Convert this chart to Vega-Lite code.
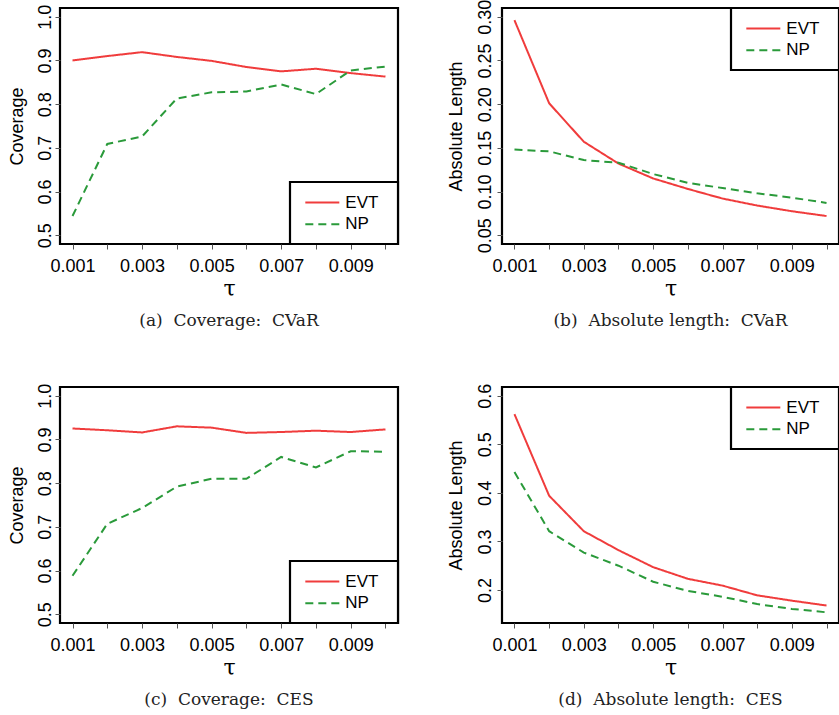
{
  "$schema": "https://vega.github.io/schema/vega-lite/v6.json",
  "autosize": {"type": "none"},
  "padding": {"left": 60, "top": 8, "right": 779, "bottom": 707},
  "background": "white",
  "config": {
    "view": {"stroke": "black", "strokeWidth": 2.2},
    "axis": {"domain": false, "grid": false, "labelFont": "Liberation Sans", "labelFontSize": 18, "labelColor": "black", "titleFont": "Liberation Sans", "titleFontSize": 18, "titleFontWeight": "normal", "titleColor": "black", "tickColor": "#555", "tickSize": 5, "tickWidth": 1},
    "legend": {"strokeWidth": 2.2, "strokeColor": "black", "fillColor": "white", "padding": 11, "rowPadding": 3.7, "symbolType": "M-0.61,0H3.39", "symbolSize": 289, "symbolStrokeWidth": 2, "labelOffset": 25.3, "labelFont": "Liberation Sans", "labelFontSize": 17, "labelColor": "black", "titleOrient": "right", "titleOpacity": 0, "titleFontSize": 1, "titlePadding": 7.5, "offset": 0},
    "title": {"font": "DejaVu Serif", "fontSize": 17, "fontWeight": "normal", "color": "#222", "orient": "bottom", "anchor": "middle", "frame": "group", "offset": 14}
  },
  "datasets": {
    "a": [
      {"tau": 0.001, "value": 0.900, "method": "EVT"}, {"tau": 0.002, "value": 0.910, "method": "EVT"}, {"tau": 0.003, "value": 0.919, "method": "EVT"}, {"tau": 0.004, "value": 0.908, "method": "EVT"}, {"tau": 0.005, "value": 0.899, "method": "EVT"}, {"tau": 0.006, "value": 0.885, "method": "EVT"}, {"tau": 0.007, "value": 0.875, "method": "EVT"}, {"tau": 0.008, "value": 0.881, "method": "EVT"}, {"tau": 0.009, "value": 0.871, "method": "EVT"}, {"tau": 0.010, "value": 0.863, "method": "EVT"},
      {"tau": 0.001, "value": 0.544, "method": "NP"}, {"tau": 0.002, "value": 0.709, "method": "NP"}, {"tau": 0.003, "value": 0.726, "method": "NP"}, {"tau": 0.004, "value": 0.813, "method": "NP"}, {"tau": 0.005, "value": 0.827, "method": "NP"}, {"tau": 0.006, "value": 0.829, "method": "NP"}, {"tau": 0.007, "value": 0.845, "method": "NP"}, {"tau": 0.008, "value": 0.823, "method": "NP"}, {"tau": 0.009, "value": 0.877, "method": "NP"}, {"tau": 0.010, "value": 0.886, "method": "NP"}
    ],
    "b": [
      {"tau": 0.001, "value": 0.296, "method": "EVT"}, {"tau": 0.002, "value": 0.201, "method": "EVT"}, {"tau": 0.003, "value": 0.157, "method": "EVT"}, {"tau": 0.004, "value": 0.132, "method": "EVT"}, {"tau": 0.005, "value": 0.115, "method": "EVT"}, {"tau": 0.006, "value": 0.103, "method": "EVT"}, {"tau": 0.007, "value": 0.092, "method": "EVT"}, {"tau": 0.008, "value": 0.084, "method": "EVT"}, {"tau": 0.009, "value": 0.0775, "method": "EVT"}, {"tau": 0.010, "value": 0.072, "method": "EVT"},
      {"tau": 0.001, "value": 0.148, "method": "NP"}, {"tau": 0.002, "value": 0.146, "method": "NP"}, {"tau": 0.003, "value": 0.136, "method": "NP"}, {"tau": 0.004, "value": 0.133, "method": "NP"}, {"tau": 0.005, "value": 0.120, "method": "NP"}, {"tau": 0.006, "value": 0.110, "method": "NP"}, {"tau": 0.007, "value": 0.104, "method": "NP"}, {"tau": 0.008, "value": 0.098, "method": "NP"}, {"tau": 0.009, "value": 0.093, "method": "NP"}, {"tau": 0.010, "value": 0.087, "method": "NP"}
    ],
    "c": [
      {"tau": 0.001, "value": 0.925, "method": "EVT"}, {"tau": 0.002, "value": 0.921, "method": "EVT"}, {"tau": 0.003, "value": 0.916, "method": "EVT"}, {"tau": 0.004, "value": 0.930, "method": "EVT"}, {"tau": 0.005, "value": 0.927, "method": "EVT"}, {"tau": 0.006, "value": 0.915, "method": "EVT"}, {"tau": 0.007, "value": 0.917, "method": "EVT"}, {"tau": 0.008, "value": 0.920, "method": "EVT"}, {"tau": 0.009, "value": 0.917, "method": "EVT"}, {"tau": 0.010, "value": 0.923, "method": "EVT"},
      {"tau": 0.001, "value": 0.588, "method": "NP"}, {"tau": 0.002, "value": 0.707, "method": "NP"}, {"tau": 0.003, "value": 0.743, "method": "NP"}, {"tau": 0.004, "value": 0.792, "method": "NP"}, {"tau": 0.005, "value": 0.810, "method": "NP"}, {"tau": 0.006, "value": 0.810, "method": "NP"}, {"tau": 0.007, "value": 0.860, "method": "NP"}, {"tau": 0.008, "value": 0.836, "method": "NP"}, {"tau": 0.009, "value": 0.873, "method": "NP"}, {"tau": 0.010, "value": 0.872, "method": "NP"}
    ],
    "d": [
      {"tau": 0.001, "value": 0.562, "method": "EVT"}, {"tau": 0.002, "value": 0.394, "method": "EVT"}, {"tau": 0.003, "value": 0.321, "method": "EVT"}, {"tau": 0.004, "value": 0.282, "method": "EVT"}, {"tau": 0.005, "value": 0.247, "method": "EVT"}, {"tau": 0.006, "value": 0.223, "method": "EVT"}, {"tau": 0.007, "value": 0.209, "method": "EVT"}, {"tau": 0.008, "value": 0.189, "method": "EVT"}, {"tau": 0.009, "value": 0.178, "method": "EVT"}, {"tau": 0.010, "value": 0.168, "method": "EVT"},
      {"tau": 0.001, "value": 0.443, "method": "NP"}, {"tau": 0.002, "value": 0.321, "method": "NP"}, {"tau": 0.003, "value": 0.277, "method": "NP"}, {"tau": 0.004, "value": 0.250, "method": "NP"}, {"tau": 0.005, "value": 0.217, "method": "NP"}, {"tau": 0.006, "value": 0.198, "method": "NP"}, {"tau": 0.007, "value": 0.186, "method": "NP"}, {"tau": 0.008, "value": 0.171, "method": "NP"}, {"tau": 0.009, "value": 0.161, "method": "NP"}, {"tau": 0.010, "value": 0.154, "method": "NP"}
    ]
  },
  "columns": 2,
  "spacing": {"row": 143, "column": 104},
  "bounds": "flush",
  "resolve": {
    "scale": {"x": "independent", "y": "independent", "color": "independent", "strokeDash": "independent"},
    "axis": {"x": "independent", "y": "independent"},
    "legend": {"color": "independent", "strokeDash": "independent"}
  },
  "concat": [
    {
      "width": 338, "height": 236,
      "title": {"text": "(a)\u00a0\u00a0Coverage:\u00a0\u00a0CVaR"},
      "data": {"name": "a"},
      "mark": {"type": "line", "strokeWidth": 2},
      "encoding": {
        "x": {"field": "tau", "type": "quantitative", "scale": {"domain": [0.00064, 0.01036], "nice": false, "zero": false}, "axis": {"title": "τ", "titleFont": "DejaVu Serif", "titleFontSize": 22, "titlePadding": 3, "values": [0.001, 0.002, 0.003, 0.004, 0.005, 0.006, 0.007, 0.008, 0.009, 0.01], "labelExpr": "round(datum.value*1000)%2==1 ? format(datum.value,'.3f') : ''", "labelPadding": 8, "labelOverlap": false}},
        "y": {"field": "value", "type": "quantitative", "scale": {"domain": [0.48, 1.02], "nice": false, "zero": false}, "axis": {"title": "Coverage", "values": [0.5, 0.6, 0.7, 0.8, 0.9, 1.0], "format": ".1f", "labelAngle": 270, "labelAlign": "center", "labelBaseline": "alphabetic", "labelPadding": 5, "titlePadding": 10, "labelOverlap": false}},
        "color": {"field": "method", "type": "nominal", "scale": {"domain": ["EVT", "NP"], "range": ["#f03c3c", "#2a9a3a"]}, "legend": {"title": "x", "orient": "bottom-right"}},
        "strokeDash": {"field": "method", "type": "nominal", "scale": {"domain": ["EVT", "NP"], "range": [[1, 0], [8, 5]]}, "legend": {"title": "x", "orient": "bottom-right"}}
      }
    },
    {
      "width": 337, "height": 236,
      "title": {"text": "(b)\u00a0\u00a0Absolute length:\u00a0\u00a0CVaR"},
      "data": {"name": "b"},
      "mark": {"type": "line", "strokeWidth": 2},
      "encoding": {
        "x": {"field": "tau", "type": "quantitative", "scale": {"domain": [0.00064, 0.01036], "nice": false, "zero": false}, "axis": {"title": "τ", "titleFont": "DejaVu Serif", "titleFontSize": 22, "titlePadding": 3, "values": [0.001, 0.002, 0.003, 0.004, 0.005, 0.006, 0.007, 0.008, 0.009, 0.01], "labelExpr": "round(datum.value*1000)%2==1 ? format(datum.value,'.3f') : ''", "labelPadding": 8, "labelOverlap": false}},
        "y": {"field": "value", "type": "quantitative", "scale": {"domain": [0.04, 0.31], "nice": false, "zero": false}, "axis": {"title": "Absolute Length", "values": [0.05, 0.1, 0.15, 0.2, 0.25, 0.3], "format": ".2f", "labelAngle": 270, "labelAlign": "center", "labelBaseline": "alphabetic", "labelPadding": 7, "titlePadding": 11, "labelOverlap": false}},
        "color": {"field": "method", "type": "nominal", "scale": {"domain": ["EVT", "NP"], "range": ["#f03c3c", "#2a9a3a"]}, "legend": {"title": "x", "orient": "top-right"}},
        "strokeDash": {"field": "method", "type": "nominal", "scale": {"domain": ["EVT", "NP"], "range": [[1, 0], [8, 5]]}, "legend": {"title": "x", "orient": "top-right"}}
      }
    },
    {
      "width": 338, "height": 236,
      "title": {"text": "(c)\u00a0\u00a0Coverage:\u00a0\u00a0CES"},
      "data": {"name": "c"},
      "mark": {"type": "line", "strokeWidth": 2},
      "encoding": {
        "x": {"field": "tau", "type": "quantitative", "scale": {"domain": [0.00064, 0.01036], "nice": false, "zero": false}, "axis": {"title": "τ", "titleFont": "DejaVu Serif", "titleFontSize": 22, "titlePadding": 3, "values": [0.001, 0.002, 0.003, 0.004, 0.005, 0.006, 0.007, 0.008, 0.009, 0.01], "labelExpr": "round(datum.value*1000)%2==1 ? format(datum.value,'.3f') : ''", "labelPadding": 8, "labelOverlap": false}},
        "y": {"field": "value", "type": "quantitative", "scale": {"domain": [0.48, 1.02], "nice": false, "zero": false}, "axis": {"title": "Coverage", "values": [0.5, 0.6, 0.7, 0.8, 0.9, 1.0], "format": ".1f", "labelAngle": 270, "labelAlign": "center", "labelBaseline": "alphabetic", "labelPadding": 5, "titlePadding": 10, "labelOverlap": false}},
        "color": {"field": "method", "type": "nominal", "scale": {"domain": ["EVT", "NP"], "range": ["#f03c3c", "#2a9a3a"]}, "legend": {"title": "x", "orient": "bottom-right"}},
        "strokeDash": {"field": "method", "type": "nominal", "scale": {"domain": ["EVT", "NP"], "range": [[1, 0], [8, 5]]}, "legend": {"title": "x", "orient": "bottom-right"}}
      }
    },
    {
      "width": 337, "height": 236,
      "title": {"text": "(d)\u00a0\u00a0Absolute length:\u00a0\u00a0CES"},
      "data": {"name": "d"},
      "mark": {"type": "line", "strokeWidth": 2},
      "encoding": {
        "x": {"field": "tau", "type": "quantitative", "scale": {"domain": [0.00064, 0.01036], "nice": false, "zero": false}, "axis": {"title": "τ", "titleFont": "DejaVu Serif", "titleFontSize": 22, "titlePadding": 3, "values": [0.001, 0.002, 0.003, 0.004, 0.005, 0.006, 0.007, 0.008, 0.009, 0.01], "labelExpr": "round(datum.value*1000)%2==1 ? format(datum.value,'.3f') : ''", "labelPadding": 8, "labelOverlap": false}},
        "y": {"field": "value", "type": "quantitative", "scale": {"domain": [0.132, 0.618], "nice": false, "zero": false}, "axis": {"title": "Absolute Length", "values": [0.2, 0.3, 0.4, 0.5, 0.6], "format": ".1f", "labelAngle": 270, "labelAlign": "center", "labelBaseline": "alphabetic", "labelPadding": 7, "titlePadding": 11, "labelOverlap": false}},
        "color": {"field": "method", "type": "nominal", "scale": {"domain": ["EVT", "NP"], "range": ["#f03c3c", "#2a9a3a"]}, "legend": {"title": "x", "orient": "top-right"}},
        "strokeDash": {"field": "method", "type": "nominal", "scale": {"domain": ["EVT", "NP"], "range": [[1, 0], [8, 5]]}, "legend": {"title": "x", "orient": "top-right"}}
      }
    }
  ]
}
